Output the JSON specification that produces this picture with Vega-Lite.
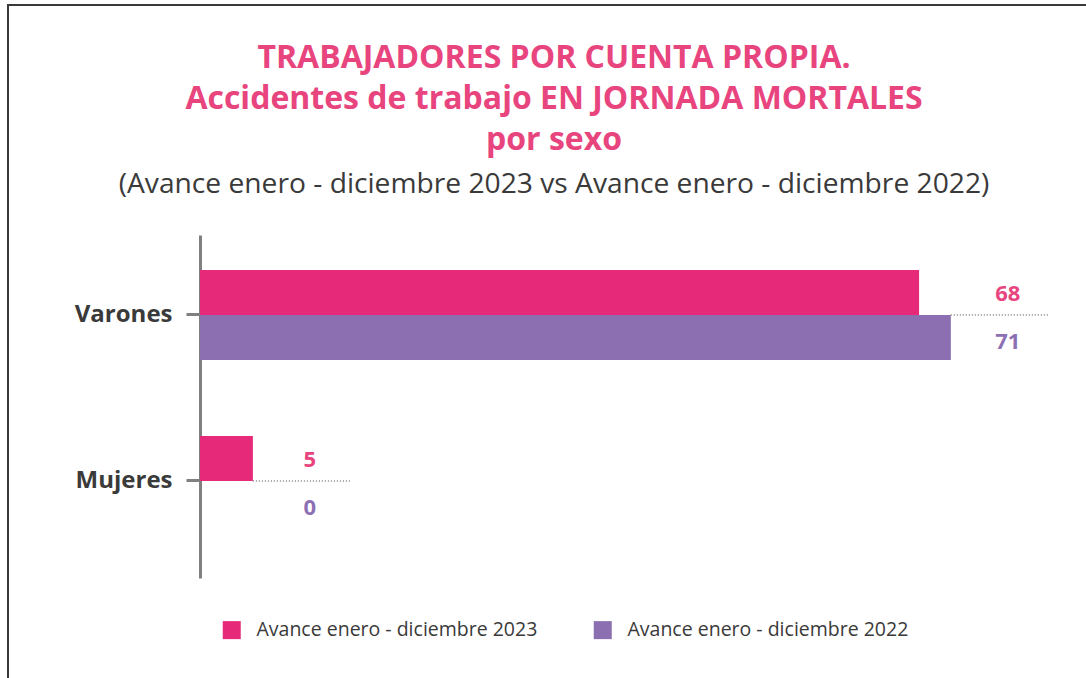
{
  "$schema": "https://vega.github.io/schema/vega-lite/v6.json",
  "autosize": "none",
  "padding": {"left": 8, "top": 5, "right": 0, "bottom": 0},
  "width": 1080,
  "height": 676,
  "background": "white",
  "config": {"view": {"stroke": "#3a3a3a", "strokeWidth": 2}, "font": "Open Sans"},
  "title": {
    "text": ["TRABAJADORES POR CUENTA PROPIA.", "Accidentes de trabajo EN JORNADA MORTALES", "por sexo"],
    "subtitle": "(Avance enero - diciembre 2023 vs  Avance enero - diciembre 2022)",
    "anchor": "middle",
    "frame": "group",
    "orient": "top",
    "offset": -194,
    "dx": 6,
    "color": "#e8457f",
    "font": "Open Sans",
    "fontSize": 32,
    "fontWeight": "bold",
    "lineHeight": 41,
    "subtitleColor": "#3a3a3a",
    "subtitleFont": "Open Sans",
    "subtitleFontSize": 28.2,
    "subtitleFontWeight": "normal",
    "subtitleLineHeight": 30,
    "subtitlePadding": 14
  },
  "data": {
    "values": [
      {"sexo": "Varones", "serie": "Avance enero - diciembre 2023", "valor": 68},
      {"sexo": "Varones", "serie": "Avance enero - diciembre 2022", "valor": 71},
      {"sexo": "Mujeres", "serie": "Avance enero - diciembre 2023", "valor": 5},
      {"sexo": "Mujeres", "serie": "Avance enero - diciembre 2022", "valor": 0}
    ]
  },
  "transform": [
    {"joinaggregate": [{"op": "max", "field": "valor", "as": "maximo"}], "groupby": ["sexo"]}
  ],
  "encoding": {
    "y": {
      "field": "sexo",
      "type": "nominal",
      "sort": ["Varones", "Mujeres"],
      "scale": {"range": [230, 573], "paddingInner": 0.458, "paddingOuter": 0.262, "align": 0.402},
      "axis": {
        "orient": "left",
        "offset": -192,
        "title": null,
        "grid": false,
        "domainColor": "#808080",
        "domainWidth": 3,
        "tickColor": "#808080",
        "tickWidth": 3,
        "tickSize": 14,
        "labelFont": "Open Sans",
        "labelFontSize": 24,
        "labelFontWeight": "bold",
        "labelColor": "#3a3a3a",
        "labelPadding": 14
      }
    }
  },
  "layer": [
    {
      "mark": {"type": "rule", "strokeDash": [1, 2], "color": "#8a8a8a", "strokeWidth": 1, "x2Offset": 99},
      "encoding": {
        "x": {"field": "maximo", "type": "quantitative", "scale": {"domain": [0, 80], "range": [192, 1038]}, "axis": null},
        "x2": {"field": "maximo"}
      }
    },
    {
      "transform": [{"filter": "datum.serie === 'Avance enero - diciembre 2023'"}],
      "mark": {"type": "bar", "height": 45, "yOffset": -22.5},
      "encoding": {
        "x": {"field": "valor", "type": "quantitative"},
        "color": {
          "field": "serie",
          "type": "nominal",
          "scale": {"domain": ["Avance enero - diciembre 2023", "Avance enero - diciembre 2022"], "range": ["#e62a79", "#8b6fb0"]},
          "legend": {
            "orient": "none",
            "legendX": 214,
            "legendY": 615,
            "direction": "horizontal",
            "title": null,
            "symbolType": "square",
            "symbolSize": 324,
            "symbolStrokeWidth": 0,
            "symbolOpacity": 1,
            "labelFont": "Open Sans",
            "labelFontSize": 19.5,
            "labelLimit": 500,
            "labelColor": "#3a3a3a",
            "labelOffset": 15,
            "columnPadding": 55
          }
        }
      }
    },
    {
      "transform": [{"filter": "datum.serie === 'Avance enero - diciembre 2022'"}],
      "mark": {"type": "bar", "height": 45, "yOffset": 22.5},
      "encoding": {
        "x": {"field": "valor", "type": "quantitative"},
        "color": {"field": "serie", "type": "nominal"}
      }
    },
    {
      "transform": [{"filter": "datum.serie === 'Avance enero - diciembre 2023'"}],
      "mark": {"type": "text", "dx": 57, "yOffset": -21, "fontWeight": "bold", "fontSize": 22, "align": "center", "baseline": "middle", "font": "Open Sans", "color": "#e8457f"},
      "encoding": {
        "x": {"field": "maximo", "type": "quantitative"},
        "text": {"field": "valor", "type": "quantitative"}
      }
    },
    {
      "transform": [{"filter": "datum.serie === 'Avance enero - diciembre 2022'"}],
      "mark": {"type": "text", "dx": 57, "yOffset": 27, "fontWeight": "bold", "fontSize": 22, "align": "center", "baseline": "middle", "font": "Open Sans", "color": "#8c70b3"},
      "encoding": {
        "x": {"field": "maximo", "type": "quantitative"},
        "text": {"field": "valor", "type": "quantitative"}
      }
    }
  ]
}
